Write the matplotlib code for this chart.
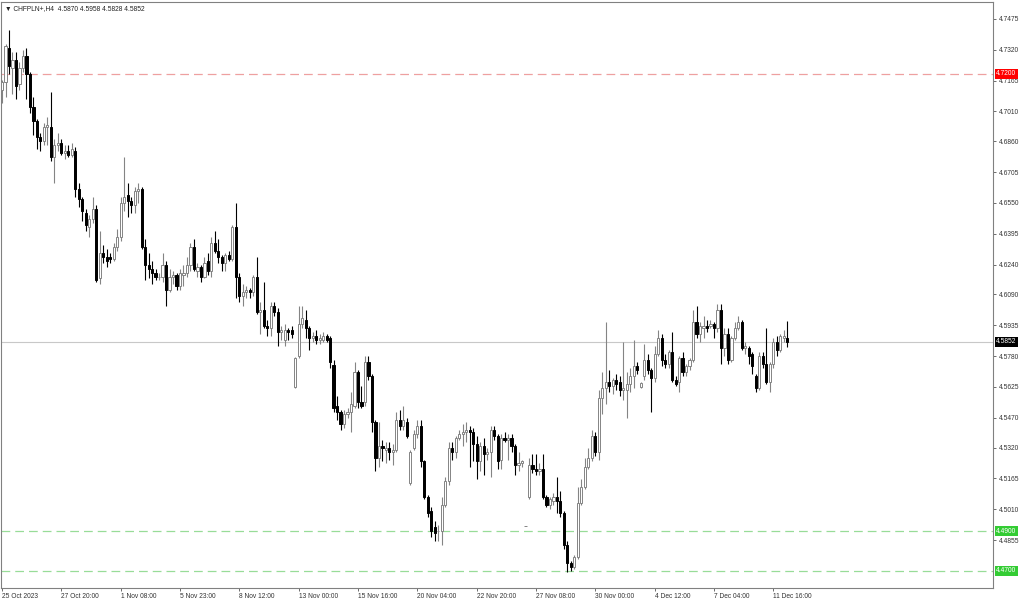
import numpy as np
import matplotlib.pyplot as plt
import matplotlib.transforms as mtransforms

plt.rcParams["font.family"] = ["Liberation Sans", "DejaVu Sans"]

symbol_text = "\u25bc CHFPLN+,H4  4.5870 4.5958 4.5828 4.5852"

# H4 candles, oldest first (open, high, low, close)
opens = [
    4.712, 4.716, 4.733, 4.723, 4.727, 4.715, 4.723, 4.729, 4.720, 4.703,
    4.696, 4.688, 4.686, 4.693, 4.693, 4.678, 4.684, 4.685, 4.680, 4.681,
    4.679, 4.681, 4.662, 4.657, 4.650, 4.643, 4.647, 4.652, 4.617, 4.630,
    4.628, 4.628, 4.627, 4.633, 4.638, 4.655, 4.659,
    4.656, 4.654, 4.661, 4.662, 4.633, 4.624, 4.622, 4.620, 4.618, 4.618,
    4.624, 4.611, 4.618, 4.619, 4.613, 4.619, 4.620, 4.624, 4.633, 4.621,
    4.623, 4.618, 4.626, 4.621, 4.635, 4.631, 4.628, 4.625, 4.629, 4.627,
    4.643, 4.618, 4.608, 4.610, 4.611, 4.610, 4.618, 4.600, 4.601, 4.593,
    4.592, 4.603, 4.600, 4.590, 4.586, 4.591, 4.591,
    4.5625, 4.578, 4.594, 4.596, 4.592, 4.587, 4.588, 4.586, 4.586, 4.588,
    4.587, 4.5735, 4.553, 4.550, 4.544, 4.549, 4.550, 4.553, 4.570, 4.555,
    4.555, 4.575, 4.568, 4.545, 4.527, 4.533, 4.531, 4.532, 4.530, 4.531,
    4.546, 4.543, 4.545, 4.514,
    4.532, 4.539, 4.543, 4.525, 4.507, 4.500, 4.492, 4.490, 4.490, 4.503,
    4.515, 4.532, 4.530, 4.537, 4.539, 4.540, 4.541, 4.540, 4.534, 4.525,
    4.533, 4.529, 4.530, 4.541, 4.538, 4.526, 4.537, 4.536, 4.537, 4.533,
    4.523, 4.524, 4.4925,
    4.507, 4.523, 4.521, 4.520, 4.521, 4.507, 4.503, 4.505, 4.507, 4.505,
    4.499, 4.483, 4.474, 4.472, 4.477, 4.504, 4.512, 4.522, 4.527, 4.538,
    4.530, 4.557, 4.562, 4.565, 4.563, 4.566, 4.565, 4.561, 4.561, 4.564,
    4.568, 4.573, 4.5625,
    4.568, 4.576, 4.571, 4.567, 4.579, 4.587, 4.576, 4.574, 4.580, 4.566,
    4.565, 4.577, 4.570, 4.573, 4.576, 4.595, 4.589, 4.592, 4.593, 4.593,
    4.594, 4.592, 4.601, 4.582, 4.589, 4.576, 4.587, 4.592, 4.595, 4.582,
    4.582, 4.579, 4.568, 4.562, 4.578, 4.574, 4.565, 4.574, 4.585, 4.581,
    4.587, 4.5870,
]
highs = [
    4.717, 4.735, 4.742, 4.731, 4.731, 4.726, 4.732, 4.733, 4.721, 4.708,
    4.697, 4.690, 4.695, 4.698, 4.711, 4.687, 4.690, 4.687, 4.684, 4.684,
    4.685, 4.683, 4.665, 4.658, 4.652, 4.649, 4.658, 4.654, 4.641, 4.634,
    4.632, 4.630, 4.635, 4.642, 4.658, 4.678, 4.665,
    4.658, 4.663, 4.665, 4.663, 4.637, 4.630, 4.626, 4.622, 4.620, 4.630,
    4.626, 4.622, 4.621, 4.620, 4.622, 4.624, 4.628, 4.635, 4.637, 4.625,
    4.624, 4.628, 4.630, 4.638, 4.641, 4.637, 4.629, 4.630, 4.631, 4.644,
    4.655, 4.620, 4.614, 4.613, 4.612, 4.619, 4.628, 4.605, 4.615, 4.596,
    4.605, 4.605, 4.602, 4.593, 4.594, 4.592, 4.593,
    4.5775, 4.603, 4.603, 4.601, 4.593, 4.590, 4.591, 4.589, 4.590, 4.589,
    4.588, 4.576, 4.558, 4.551, 4.551, 4.552, 4.560, 4.575, 4.571, 4.563,
    4.578, 4.578, 4.569, 4.546, 4.545, 4.536, 4.535, 4.535, 4.534, 4.550,
    4.551, 4.553, 4.547, 4.531,
    4.541, 4.546, 4.546, 4.526, 4.508, 4.502, 4.495, 4.493, 4.507, 4.517,
    4.535, 4.535, 4.538, 4.541, 4.544, 4.545, 4.543, 4.542, 4.538, 4.535,
    4.537, 4.532, 4.543, 4.543, 4.539, 4.539, 4.540, 4.539, 4.539, 4.534,
    4.530, 4.526, 4.4925,
    4.527, 4.529, 4.529, 4.524, 4.529, 4.508, 4.507, 4.509, 4.517, 4.510,
    4.500, 4.485, 4.475, 4.478, 4.512, 4.516, 4.527, 4.532, 4.541, 4.540,
    4.561, 4.570, 4.595, 4.571, 4.567, 4.569, 4.568, 4.585, 4.570, 4.572,
    4.586, 4.575, 4.565,
    4.584, 4.579, 4.572, 4.583, 4.591, 4.589, 4.579, 4.581, 4.590, 4.568,
    4.578, 4.580, 4.574, 4.577, 4.601, 4.603, 4.595, 4.598, 4.596, 4.596,
    4.595, 4.604, 4.604, 4.592, 4.592, 4.588, 4.595, 4.598, 4.596, 4.585,
    4.583, 4.580, 4.569, 4.580, 4.580, 4.592, 4.575, 4.587, 4.588, 4.589,
    4.591, 4.5958,
]
lows = [
    4.705, 4.708, 4.720, 4.710, 4.707, 4.712, 4.721, 4.707, 4.700, 4.689,
    4.682, 4.681, 4.684, 4.684, 4.676, 4.665, 4.681, 4.679, 4.677, 4.678,
    4.678, 4.658, 4.653, 4.646, 4.641, 4.638, 4.645, 4.615, 4.614, 4.625,
    4.623, 4.625, 4.626, 4.631, 4.636, 4.651, 4.648,
    4.650, 4.650, 4.655, 4.632, 4.616, 4.617, 4.614, 4.616, 4.616, 4.615,
    4.603, 4.610, 4.614, 4.611, 4.611, 4.613, 4.618, 4.621, 4.621, 4.618,
    4.615, 4.617, 4.619, 4.618, 4.630, 4.625, 4.621, 4.621, 4.626, 4.626,
    4.607, 4.605, 4.603, 4.607, 4.607, 4.608, 4.599, 4.589, 4.592, 4.588,
    4.588, 4.598, 4.583, 4.586, 4.583, 4.586, 4.587,
    4.5620, 4.577, 4.592, 4.587, 4.581, 4.585, 4.584, 4.584, 4.585, 4.585,
    4.572, 4.550, 4.546, 4.541, 4.542, 4.547, 4.540, 4.552, 4.552, 4.552,
    4.553, 4.566, 4.540, 4.520, 4.522, 4.525, 4.524, 4.526, 4.523, 4.530,
    4.541, 4.541, 4.537, 4.513,
    4.531, 4.537, 4.522, 4.506, 4.497, 4.487, 4.485, 4.485, 4.483, 4.502,
    4.513, 4.526, 4.527, 4.536, 4.533, 4.535, 4.522, 4.525, 4.516, 4.520,
    4.518, 4.526, 4.517, 4.536, 4.521, 4.521, 4.535, 4.526, 4.530, 4.518,
    4.520, 4.522, 4.4925,
    4.506, 4.519, 4.518, 4.518, 4.506, 4.502, 4.501, 4.503, 4.499, 4.497,
    4.481, 4.4695, 4.470, 4.471, 4.476, 4.503, 4.511, 4.521, 4.525, 4.528,
    4.526, 4.549, 4.554, 4.560, 4.559, 4.561, 4.558, 4.556, 4.547, 4.560,
    4.562, 4.569, 4.562,
    4.566, 4.569, 4.550, 4.565, 4.578, 4.573, 4.572, 4.572, 4.565, 4.563,
    4.560, 4.568, 4.568, 4.571, 4.575, 4.587, 4.585, 4.587, 4.590, 4.592,
    4.587, 4.590, 4.574, 4.578, 4.574, 4.575, 4.586, 4.591, 4.581, 4.579,
    4.574, 4.569, 4.560, 4.561, 4.572, 4.564, 4.560, 4.572, 4.578, 4.580,
    4.585, 4.5828,
]
closes = [
    4.716, 4.734, 4.724, 4.727, 4.714, 4.723, 4.729, 4.720, 4.703, 4.696,
    4.688, 4.686, 4.693, 4.694, 4.678, 4.684, 4.685, 4.680, 4.681, 4.679,
    4.682, 4.662, 4.657, 4.651, 4.644, 4.647, 4.652, 4.616, 4.630, 4.628,
    4.626, 4.627, 4.633, 4.638, 4.655, 4.658, 4.656,
    4.654, 4.661, 4.662, 4.633, 4.624, 4.622, 4.620, 4.618, 4.618, 4.624,
    4.611, 4.618, 4.619, 4.613, 4.620, 4.620, 4.624, 4.633, 4.622, 4.623,
    4.618, 4.625, 4.621, 4.635, 4.631, 4.628, 4.625, 4.629, 4.627, 4.643,
    4.618, 4.608, 4.610, 4.611, 4.610, 4.618, 4.600, 4.601, 4.593, 4.592,
    4.603, 4.600, 4.590, 4.591, 4.591, 4.590, 4.589,
    4.5770, 4.594, 4.597, 4.592, 4.587, 4.588, 4.586, 4.587, 4.588, 4.586,
    4.575, 4.552, 4.550, 4.544, 4.549, 4.550, 4.554, 4.570, 4.555, 4.553,
    4.575, 4.568, 4.545, 4.527, 4.533, 4.532, 4.532, 4.530, 4.531, 4.546,
    4.543, 4.546, 4.538, 4.530,
    4.539, 4.543, 4.525, 4.507, 4.499, 4.490, 4.489, 4.490, 4.503, 4.515,
    4.532, 4.530, 4.537, 4.539, 4.540, 4.541, 4.540, 4.534, 4.525, 4.533,
    4.529, 4.530, 4.541, 4.538, 4.525, 4.537, 4.536, 4.537, 4.533, 4.523,
    4.524, 4.525, 4.4925,
    4.523, 4.521, 4.520, 4.521, 4.507, 4.503, 4.506, 4.507, 4.505, 4.499,
    4.483, 4.474, 4.472, 4.477, 4.504, 4.512, 4.522, 4.527, 4.538, 4.530,
    4.557, 4.562, 4.565, 4.563, 4.566, 4.564, 4.561, 4.562, 4.564, 4.568,
    4.573, 4.571, 4.5645,
    4.576, 4.571, 4.567, 4.579, 4.587, 4.576, 4.574, 4.580, 4.566, 4.564,
    4.577, 4.570, 4.573, 4.576, 4.595, 4.589, 4.593, 4.593, 4.592, 4.594,
    4.592, 4.601, 4.582, 4.589, 4.576, 4.587, 4.592, 4.595, 4.582, 4.583,
    4.578, 4.573, 4.562, 4.578, 4.574, 4.565, 4.574, 4.585, 4.581, 4.588,
    4.588, 4.5852,
]

# bottom axis labels every 17 bars
x_labels = ["25 Oct 2023", "27 Oct 20:00", "1 Nov 08:00", "5 Nov 23:00",
            "8 Nov 12:00", "13 Nov 00:00", "15 Nov 16:00", "20 Nov 04:00",
            "22 Nov 20:00", "27 Nov 08:00", "30 Nov 00:00", "4 Dec 12:00",
            "7 Dec 04:00", "11 Dec 16:00"]
label_step = 17

y_ticks = [4.7475, 4.7320, 4.7165, 4.7010, 4.6860, 4.6705, 4.6550, 4.6395,
           4.6240, 4.6090, 4.5935, 4.5780, 4.5625, 4.5470, 4.5320, 4.5165,
           4.5010, 4.4855]

# horizontal levels: price, line colour, label box colour
levels = [(4.7200, "#eea0a0", "#ff0000"),
          (4.4900, "#98dc98", "#33cc33"),
          (4.4700, "#98dc98", "#33cc33")]
bid = 4.5852


def main():
    o = np.array(opens)
    h = np.array(highs)
    l = np.array(lows)
    c = np.array(closes)
    x = np.arange(len(o))
    up = c >= o

    fig = plt.figure(figsize=(10.24, 6), dpi=100)
    ax = fig.add_axes([1 / 1024, 12 / 600, 992 / 1024, 586 / 600])

    bull_col = "#848484"
    # wicks
    ax.vlines(x[up], l[up], h[up], color=bull_col, lw=0.8, zorder=2)
    ax.vlines(x[~up], l[~up], h[~up], color="black", lw=0.8, zorder=2)
    # bodies
    lo = np.minimum(o, c)
    ht = np.abs(c - o)
    ax.bar(x[up], ht[up], bottom=lo[up], width=0.62, color="white",
           edgecolor=bull_col, linewidth=0.7, zorder=3)
    ax.bar(x[~up], ht[~up], bottom=lo[~up], width=0.62, color="black",
           edgecolor="black", linewidth=0.7, zorder=3)

    # level lines
    for price, lc, _ in levels:
        ax.axhline(price, color=lc, lw=0.9, dashes=(7, 4), zorder=1)
    ax.axhline(bid, color="#c8c8c8", lw=0.8, zorder=1)

    ax.set_xlim(-0.29, 283.95)
    ax.set_ylim(4.4614, 4.7560)

    # right price scale
    ax.yaxis.tick_right()
    ax.set_yticks(y_ticks)
    ax.set_yticklabels([f"{v:.4f}" for v in y_ticks])
    ax.tick_params(axis="y", length=2.5, width=0.6, color="#555555",
                   labelsize=4.8, labelcolor="#333333", pad=1.5)

    ax.set_xticks([k * label_step for k in range(len(x_labels))])
    ax.set_xticklabels(x_labels)
    ax.tick_params(axis="x", length=2.5, width=0.6, color="#555555",
                   labelsize=4.8, labelcolor="#333333", pad=1)
    for t in ax.get_xticklabels():
        t.set_horizontalalignment("left")

    for s in ax.spines.values():
        s.set_color("#808080")
        s.set_linewidth(0.8)

    # price boxes on the scale
    tr = mtransforms.blended_transform_factory(ax.transAxes, ax.transData)
    for price, _, bc in levels:
        ax.text(1.003, price, f"{price:.4f}", transform=tr, fontsize=4.8,
                color="white", va="center", ha="left", clip_on=False,
                bbox=dict(facecolor=bc, edgecolor="none", pad=1.0))
    ax.text(1.003, bid, f"{bid:.4f}", transform=tr, fontsize=4.8,
            color="white", va="center", ha="left", clip_on=False,
            bbox=dict(facecolor="black", edgecolor="none", pad=1.0))

    ax.text(0.004, 0.994, symbol_text, transform=ax.transAxes, fontsize=4.8,
            color="#222222", va="top", ha="left")

    fig.savefig("out.png", dpi=100)


if __name__ == "__main__":
    main()
